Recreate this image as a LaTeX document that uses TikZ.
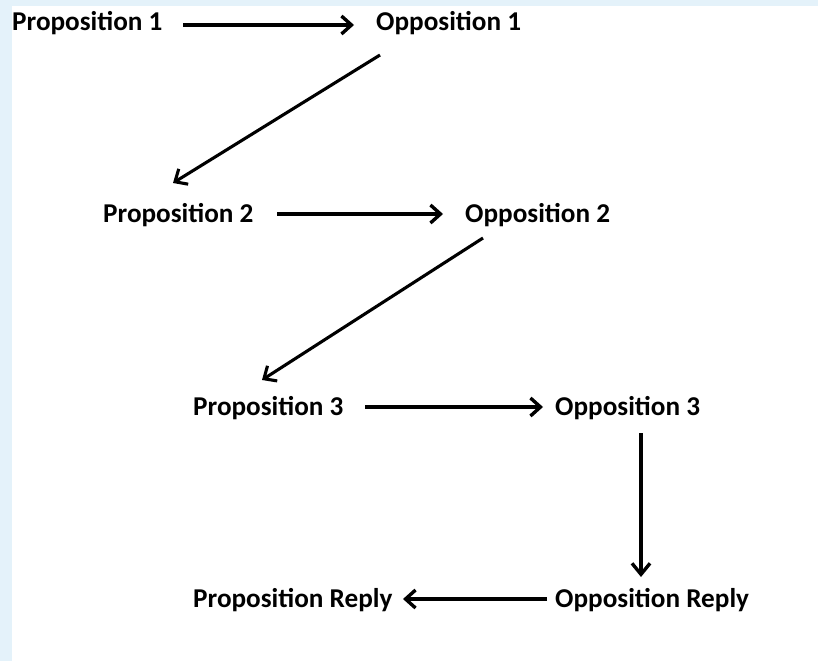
\documentclass[tikz,border=0pt]{standalone}
\usepackage{fontspec}
\setmainfont{Carlito}
\usetikzlibrary{arrows.meta,calc}
\definecolor{bgblue}{HTML}{E4F2FA}
\tikzset{
  lbl/.style={anchor=base west, inner sep=0pt, font=\fontsize{27.2}{30}\selectfont\bfseries, text=black},
  harr/.style={line width=3.8pt, -{Straight Barb[length=10pt,width=18pt,line width=3.4pt]}},
  darr/.style={line width=3.1pt, -{Straight Barb[length=10pt,width=18pt,line width=3.1pt]}},
  varr/.style={line width=3.8pt, -{Straight Barb[length=11pt,width=18pt,line width=3.4pt]}}
}
\begin{document}
\begin{tikzpicture}[x=1pt,y=-1pt]
\useasboundingbox (0,0) rectangle (818,661);
\fill[white] (0,0) rectangle (818,661);
\fill[bgblue] (0,0) rectangle (818,6);
\fill[bgblue] (0,0) rectangle (12,661);
\node[lbl] (p1) at (12,31) {Proposition 1};
\node[lbl] (o1) at (376,31) {Opposition 1};
\node[lbl] (p2) at (103,222) {Proposition 2};
\node[lbl] (o2) at (465,222) {Opposition 2};
\node[lbl] (p3) at (193,415) {Proposition 3};
\node[lbl] (o3) at (555,415) {Opposition 3};
\node[lbl] (pr) at (193,607) {Proposition Reply};
\node[lbl] (or) at (555,607) {Opposition Reply};
\draw[harr] ($(p1.base west)+(171,-6)$) -- ($(o1.base west)+(-22,-6)$);
\draw[harr] ($(p2.base west)+(174,-8)$) -- ($(o2.base west)+(-22,-8)$);
\draw[harr] ($(p3.base west)+(172,-8)$) -- ($(o3.base west)+(-12,-8)$);
\draw[harr] ($(or.base west)+(-8,-8)$) -- ($(pr.base west)+(210,-8)$);
\draw[darr] ($(o1.base west)+(4,24)$) -- ($(p2.base west)+(70,-39)$);
\draw[darr] ($(o2.base west)+(18,16)$) -- ($(p3.base west)+(69,-35)$);
\draw[varr] ($(o3.base west)+(86,18)$) -- ($(or.base west)+(86,-30)$);
\end{tikzpicture}
\end{document}
